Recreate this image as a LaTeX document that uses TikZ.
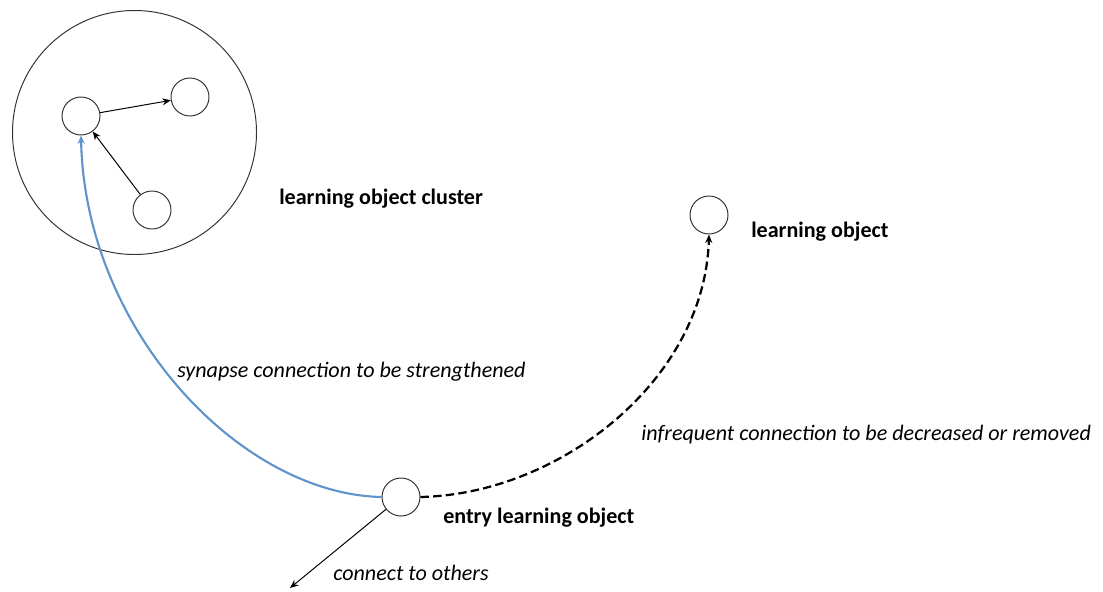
\documentclass[tikz,border=0pt]{standalone}
\usepackage{fontspec}
\setmainfont{Carlito}
\usetikzlibrary{arrows.meta}
\definecolor{synblue}{RGB}{96,146,204}

\begin{document}
\begin{tikzpicture}[x=0.025cm,y=-0.025cm]
      \tikzstyle{lobj}=[circle,draw=black!80,line width=0.7pt,minimum size=38*0.025cm,inner sep=0pt]
      \tikzstyle{bold label}=[font=\fontsize{15.7}{18}\selectfont\bfseries,anchor=west,inner sep=0pt]
      \tikzstyle{it label}=[font=\fontsize{15.7}{18}\selectfont\itshape,anchor=west,inner sep=0pt]
      \tikzstyle{tip}=[-{Stealth[length=6pt,width=5pt]}]
      \useasboundingbox (0,0) rectangle (1103,591);
      % cluster
      \node[circle,draw=black!80,line width=0.7pt,minimum size=244*0.025cm,inner sep=0pt] (cluster) at (134.5,132.5) {};
      \node[lobj] (ca) at (81,116) {};
      \node[lobj] (cb) at (190,97) {};
      \node[lobj] (cc) at (152,210) {};
      \draw[tip,line width=0.7pt] (ca) -- (cb);
      \draw[tip,line width=0.7pt] (cc) -- (ca);
      % single objects
      \node[lobj] (lo) at (709,215) {};
      \node[lobj] (entry) at (401,497) {};
      \coordinate (others) at (290,588);
      % labels
      \node[bold label] (clusterlbl) at (279,199) {learning object cluster};
      \node[bold label] (lolbl) at (751,232) {learning object};
      \node[bold label] (entrylbl) at (443,518) {entry learning object};
      \node[it label] (synlbl) at (177,372) {synapse connection to be strengthened};
      \node[it label] (inflbl) at (641,435) {infrequent connection to be decreased or removed};
      \node[it label] (otherslbl) at (333,573) {connect to others};
      % connections
      \draw[tip,synblue,line width=1.5pt] (entry.west) .. controls (240,494) and (85,330) .. (ca.south);
      \draw[tip,line width=1.6pt,dash pattern=on 6pt off 3pt] (entry.east) .. controls (560,494) and (705,380) .. (lo.south);
      \draw[tip,line width=0.7pt] (entry) -- (others);
\end{tikzpicture}
\end{document}
